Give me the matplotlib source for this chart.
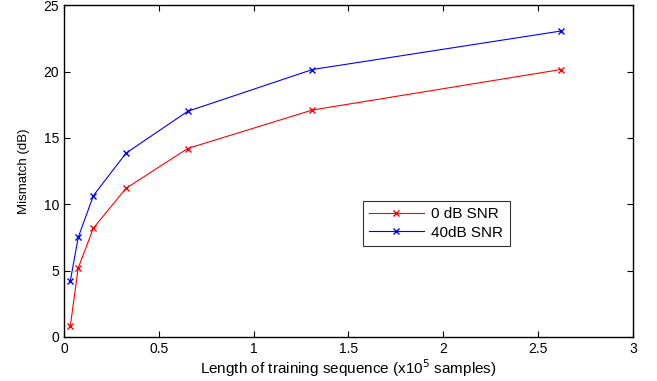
import matplotlib.pyplot as plt
import numpy as np

plt.rcParams['font.family'] = ['Liberation Sans', 'DejaVu Sans']

# training length (x10^5 samples)
x = [0.033, 0.075, 0.155, 0.327, 0.652, 1.31, 2.62]
snr0 = [0.8, 5.2, 8.2, 11.2, 14.2, 17.1, 20.15]
snr40 = [4.2, 7.5, 10.65, 13.85, 17.0, 20.15, 23.05]

fig = plt.figure(figsize=(6.57, 3.81), dpi=100)
ax = fig.add_axes([0.0974, 0.1155, 0.866, 0.871])
ax.plot(x, snr0, color='red', marker='x', ms=4, lw=0.8, label='0 dB SNR')
ax.plot(x, snr40, color='blue', marker='x', ms=4, lw=0.8, label='40dB SNR')

ax.set_xlim(0, 3)
ax.set_ylim(0, 25)
ax.set_xticks(np.arange(0, 3.01, 0.5))
ax.set_xticklabels(['0', '0.5', '1', '1.5', '2', '2.5', '3'])
ax.set_yticks(np.arange(0, 26, 5))
ax.tick_params(direction='in', top=True, right=True, labelsize=10, length=4, width=0.8)
for s in ax.spines.values():
    s.set_linewidth(1.0)
ax.set_xlabel('Length of training sequence (x10$^5$ samples)', fontsize=11, labelpad=1)
ax.set_ylabel('Mismatch (dB)', fontsize=9.5, labelpad=10)

leg = ax.legend(loc='upper left', bbox_to_anchor=(0.525, 0.41), borderaxespad=0,
                fontsize=11, frameon=True, fancybox=False, edgecolor='black',
                handlelength=3.6, borderpad=0.4, labelspacing=0.3, handletextpad=0.5)
leg.get_frame().set_linewidth(0.8)

fig.savefig('out.png', dpi=100)
